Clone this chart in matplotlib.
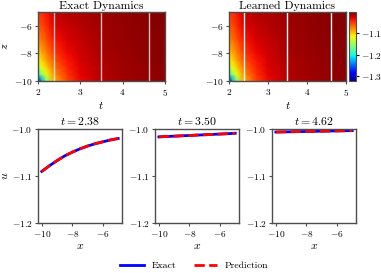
import numpy as np
import matplotlib
matplotlib.use('Agg')
import matplotlib.pyplot as plt

plt.rcParams['font.family'] = 'serif'
plt.rcParams['font.serif'] = ['cmr10', 'DejaVu Serif']
plt.rcParams['mathtext.fontset'] = 'cm'
plt.rcParams['axes.formatter.use_mathtext'] = True
plt.rcParams['axes.unicode_minus'] = True

# field u(t, z) (rows: z, columns: t)
t_grid = [2.0, 2.1, 2.2, 2.38, 2.7, 3.0, 3.5, 4.0, 4.62, 5.0]
z_grid = [-10.0, -9.5, -9.0, -8.5, -8.0, -7.0, -6.0, -5.0]
u_exact = [
    [-1.320, -1.230, -1.160, -1.090, -1.052, -1.032, -1.016, -1.011, -1.0060, -1.0045],
    [-1.200, -1.150, -1.120, -1.078, -1.046, -1.029, -1.015, -1.010, -1.0056, -1.0042],
    [-1.140, -1.120, -1.100, -1.067, -1.041, -1.027, -1.014, -1.0095, -1.0053, -1.0039],
    [-1.115, -1.100, -1.085, -1.057, -1.036, -1.025, -1.013, -1.009, -1.0050, -1.0036],
    [-1.100, -1.088, -1.075, -1.049, -1.032, -1.023, -1.012, -1.0085, -1.0046, -1.0033],
    [-1.075, -1.068, -1.058, -1.036, -1.025, -1.019, -1.0105, -1.0075, -1.0040, -1.0029],
    [-1.060, -1.054, -1.045, -1.027, -1.019, -1.016, -1.0095, -1.0068, -1.0035, -1.0025],
    [-1.050, -1.044, -1.036, -1.020, -1.014, -1.013, -1.0085, -1.0060, -1.0030, -1.0022],
]
u_learned = u_exact
u_min, u_max = -1.323, -1.0

# slices
slice_times = [2.38, 3.50, 4.62]
x_slice = [-10.0, -9.5, -9.0, -8.5, -8.0, -7.5, -7.0, -6.5, -6.0, -5.5, -5.0]
exact_slices = [
    [-1.090, -1.078, -1.067, -1.057, -1.049, -1.042, -1.036, -1.031, -1.027, -1.023, -1.020],
    [-1.0165, -1.0157, -1.0150, -1.0142, -1.0135, -1.0127, -1.0120, -1.0112, -1.0105, -1.0097, -1.0088],
    [-1.0062, -1.0059, -1.0056, -1.0053, -1.0050, -1.0047, -1.0044, -1.0041, -1.0038, -1.0035, -1.0032],
]
pred_slices = exact_slices

fig = plt.figure(figsize=(3.81, 2.73), dpi=100)

def style(ax):
    for s in ax.spines.values():
        s.set_color('0.3')
        s.set_linewidth(1.0)
    ax.tick_params(labelsize=6.8, length=2.5, width=0.8, color='0.3', pad=1.5)

T, Z = np.meshgrid(t_grid, z_grid)
ax1 = fig.add_axes([0.0997, 0.703, 0.333, 0.253])
ax2 = fig.add_axes([0.601, 0.703, 0.307, 0.253])
for ax, u, title, lc in [(ax1, u_exact, 'Exact Dynamics', (1, 1, 1, 0.75)),
                         (ax2, u_learned, 'Learned Dynamics', 'white')]:
    pc = ax.pcolormesh(T, Z, np.array(u), cmap='jet', vmin=u_min, vmax=u_max,
                       shading='gouraud', rasterized=True)
    for ts in slice_times:
        ax.axvline(ts, color=lc, lw=1.0)
    ax.set_xlim(2, 5)
    ax.set_ylim(-10, -5)
    ax.set_xticks([2, 3, 4, 5])
    ax.set_yticks([-6, -8, -10])
    ax.set_title(title, fontsize=8.5, pad=2)
    ax.set_xlabel('$t$', fontsize=8.5, labelpad=2)
    style(ax)
ax1.set_ylabel('$z$', fontsize=8.5, labelpad=3)

cax = fig.add_axes([0.916, 0.703, 0.018, 0.253])
cb = fig.colorbar(pc, cax=cax)
cb.set_ticks([-1.1, -1.2, -1.3])
cb.ax.tick_params(labelsize=6.8, length=2.5, width=0.8, pad=1.5)
cb.outline.set_edgecolor('0.3')

lefts = [0.0997, 0.407, 0.714]
for i, (ts, ue, up) in enumerate(zip(slice_times, exact_slices, pred_slices)):
    ax = fig.add_axes([lefts[i], 0.183, 0.2205, 0.344])
    ax.plot(x_slice, ue, color='blue', lw=2.0, label='Exact')
    ax.plot(x_slice, up, color='red', lw=2.0, ls='--', label='Prediction')
    ax.set_ylim(-1.2, -1.0)
    ax.set_yticks([-1.0, -1.1, -1.2])
    ax.yaxis.set_major_formatter(matplotlib.ticker.FormatStrFormatter('$%.1f$'))
    ax.set_xticks([-10, -8, -6])
    ax.set_xlabel('$x$', fontsize=8.5, labelpad=2)
    ax.set_title('$t = %.2f$' % ts, fontsize=8.5, pad=3)
    style(ax)
    if i == 0:
        ax.set_ylabel('$u$', fontsize=8.5, labelpad=1)
        handles, labels = ax.get_legend_handles_labels()

fig.legend(handles, labels, loc='center', bbox_to_anchor=(0.51, 0.027), ncol=2,
           frameon=False, fontsize=7, handlelength=2.4, columnspacing=1.8)

fig.savefig('out.png', dpi=100)
